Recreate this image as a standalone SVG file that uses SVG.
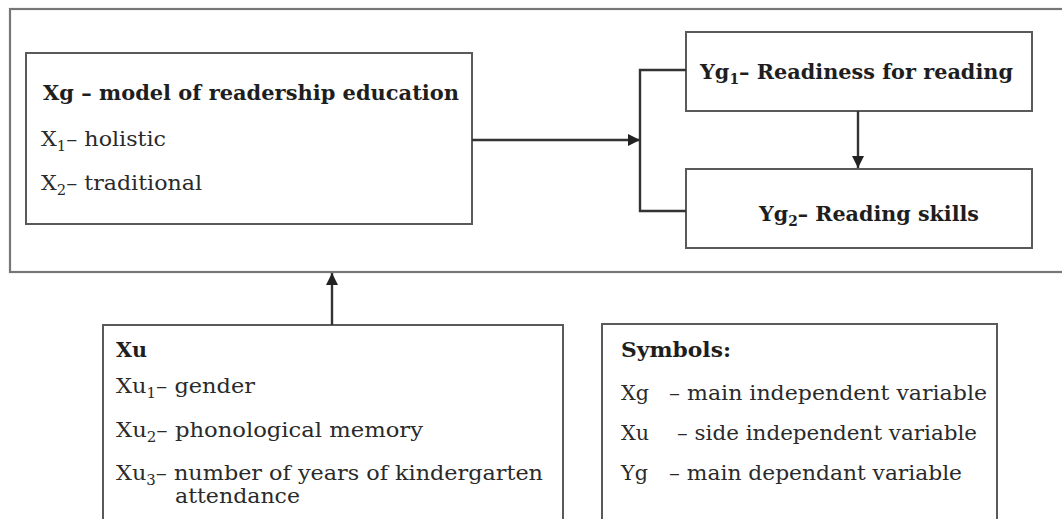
<svg xmlns="http://www.w3.org/2000/svg" width="1062" height="519" viewBox="0 0 1062 519">
<style>
.box{fill:#fff;stroke:#5a5a5a;stroke-width:2}
.outer{fill:none;stroke:#777;stroke-width:2.2}
.con{fill:none;stroke:#333;stroke-width:2.4}
text{font-family:"DejaVu Serif","Liberation Serif",serif;font-size:21px;fill:#2a2a2a}
.b{font-weight:bold;fill:#1e1e1e}
.sub{font-size:14px}
</style>
<defs>
<marker id="arr" viewBox="0 0 10 10" refX="10" refY="5" markerWidth="6" markerHeight="5" markerUnits="strokeWidth" orient="auto">
<path d="M0,0 L10,5 L0,10 z" fill="#222"/>
</marker>
</defs>
<rect class="outer" x="10" y="9" width="1080" height="263"/>
<g id="xg">
<rect class="box" x="26" y="53" width="446" height="171"/>
<text class="b" x="43" y="100" textLength="416" lengthAdjust="spacingAndGlyphs">Xg – model of readership education</text>
<text x="41" y="146" textLength="125" lengthAdjust="spacingAndGlyphs">X<tspan class="sub" dy="5">1</tspan><tspan dy="-5">– holistic</tspan></text>
<text x="41" y="190" textLength="161" lengthAdjust="spacingAndGlyphs">X<tspan class="sub" dy="5">2</tspan><tspan dy="-5">– traditional</tspan></text>
</g>
<g id="yg1">
<rect class="box" x="686" y="32" width="346" height="79"/>
<text class="b" x="700" y="79" textLength="313" lengthAdjust="spacingAndGlyphs">Yg<tspan class="sub" dy="5">1</tspan><tspan dy="-5">– Readiness for reading</tspan></text>
</g>
<g id="yg2">
<rect class="box" x="686" y="169" width="346" height="79"/>
<text class="b" x="759" y="221" textLength="220" lengthAdjust="spacingAndGlyphs">Yg<tspan class="sub" dy="5">2</tspan><tspan dy="-5">– Reading skills</tspan></text>
</g>
<g id="xu">
<rect class="box" x="103" y="325" width="460" height="210"/>
<text class="b" x="116" y="357" textLength="31" lengthAdjust="spacingAndGlyphs">Xu</text>
<text x="116" y="393" textLength="139" lengthAdjust="spacingAndGlyphs">Xu<tspan class="sub" dy="5">1</tspan><tspan dy="-5">– gender</tspan></text>
<text x="116" y="437" textLength="307" lengthAdjust="spacingAndGlyphs">Xu<tspan class="sub" dy="5">2</tspan><tspan dy="-5">– phonological memory</tspan></text>
<text x="116" y="480" textLength="427" lengthAdjust="spacingAndGlyphs">Xu<tspan class="sub" dy="5">3</tspan><tspan dy="-5">– number of years of kindergarten</tspan></text>
<text x="175" y="503" textLength="125" lengthAdjust="spacingAndGlyphs">attendance</text>
</g>
<g id="symbols">
<rect class="box" x="602" y="324" width="395" height="210"/>
<text class="b" x="621" y="357" textLength="110" lengthAdjust="spacingAndGlyphs">Symbols:</text>
<text x="621" y="400" textLength="28" lengthAdjust="spacingAndGlyphs">Xg</text>
<text x="669" y="400" textLength="318" lengthAdjust="spacingAndGlyphs">– main independent variable</text>
<text x="621" y="440" textLength="28" lengthAdjust="spacingAndGlyphs">Xu</text>
<text x="677" y="440" textLength="300" lengthAdjust="spacingAndGlyphs">– side independent variable</text>
<text x="621" y="480" textLength="27" lengthAdjust="spacingAndGlyphs">Yg</text>
<text x="669" y="480" textLength="293" lengthAdjust="spacingAndGlyphs">– main dependant variable</text>
</g>
<g id="connectors">
<line class="con" x1="472" y1="140" x2="640" y2="140" marker-end="url(#arr)"/>
<path class="con" d="M686,70 H640 V211 H686"/>
<line class="con" x1="858" y1="111" x2="858" y2="168" marker-end="url(#arr)"/>
<line class="con" x1="332" y1="325" x2="332" y2="273" marker-end="url(#arr)"/>
</g>
</svg>
